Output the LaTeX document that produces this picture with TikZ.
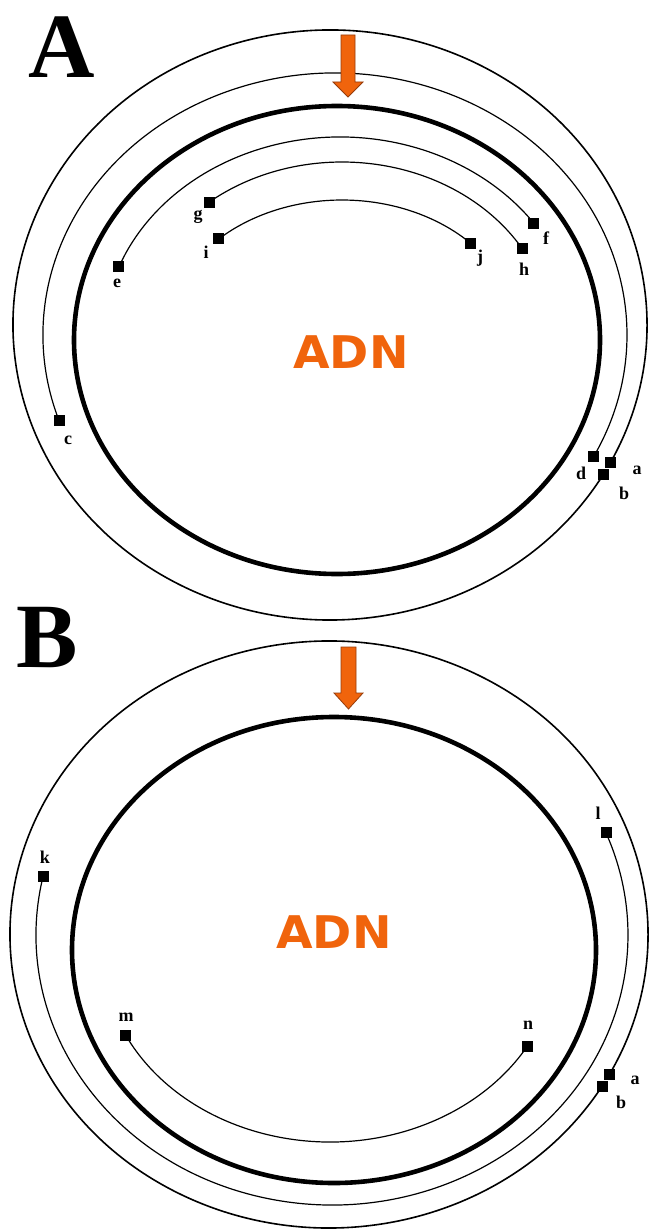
\documentclass[tikz,border=0pt]{standalone}
\usepackage{fontspec}
\setmainfont{Liberation Serif}
\newfontfamily\adnfont{DejaVu Sans}
\usetikzlibrary{calc}
\definecolor{adnorange}{RGB}{240,100,12}
\definecolor{arrowedge}{RGB}{150,60,10}
\begin{document}
\begin{tikzpicture}[x=1pt,y=-1pt,
  thinring/.style={line width=1.6pt},
  strand/.style={line width=1.2pt},
  dnaring/.style={line width=4.6pt},
  sq/.style={fill=black, draw=none, rectangle, minimum size=11pt, inner sep=0pt},
  lbl/.style={font=\fontsize{18}{18}\selectfont\bfseries, inner sep=0pt},
  panel/.style={font=\fontsize{92}{92}\selectfont\bfseries, inner sep=0pt},
  adn/.style={font=\adnfont\bfseries\fontsize{45}{45}\selectfont, text=adnorange, inner sep=0pt, xscale=1.05},
  marker/.style={fill=adnorange, draw=arrowedge, line width=0.8pt, line join=miter}]
\useasboundingbox (0,0) rectangle (649,1230);
\fill[white] (0,0) rectangle (649,1230);

% ================= Panel A =================
\node[panel] (pA) at (62,47) {A};
\coordinate (oA) at (330,325);   % outer ring
\coordinate (mA) at (335,335);   % c-d strand
\coordinate (tA) at (337,340);   % DNA
\coordinate (efA) at (340,340);
\coordinate (ghA) at (342,340);
\coordinate (ijA) at (342,340);

\draw[dnaring] (tA) ellipse[x radius=263, y radius=234];

\path ($(oA)+(27.8:317 and 295)$) node[sq] (a1) {};
\path ($(oA)+(30.5:317 and 295)$) node[sq] (b1) {};
\draw[thinring] (a1.center) arc[start angle=27.8, end angle=-329.5, x radius=317, y radius=295];

\path ($(mA)+(160.9:292 and 262)$) node[sq] (c1) {};
\path ($(mA)+(387.6:292 and 262)$) node[sq] (d1) {};
\draw[strand] (c1.center) arc[start angle=160.9, end angle=387.6, x radius=292, y radius=262];

\path ($(efA)+(201.1:237 and 203)$) node[sq] (e1) {};
\path ($(efA)+(324.9:237 and 203)$) node[sq] (f1) {};
\draw[strand] (e1.center) arc[start angle=201.1, end angle=324.9, x radius=237, y radius=203];

\path ($(ghA)+(230.8:210 and 178)$) node[sq] (g1) {};
\path ($(ghA)+(329.2:210 and 178)$) node[sq] (h1) {};
\draw[strand] (g1.center) arc[start angle=230.8, end angle=329.2, x radius=210, y radius=178];

\path ($(ijA)+(226.2:178 and 140)$) node[sq] (i1) {};
\path ($(ijA)+(316.3:178 and 140)$) node[sq] (j1) {};
\draw[strand] (i1.center) arc[start angle=226.2, end angle=316.3, x radius=178, y radius=140];

\node[lbl] (la1) at (637,470) {a};
\node[lbl] (lb1) at (624,493) {b};
\node[lbl] (lc1) at (68,440) {c};
\node[lbl] (ld1) at (581,473) {d};
\node[lbl] (le1) at (117,283) {e};
\node[lbl] (lf1) at (546,238) {f};
\node[lbl] (lg1) at (198,217) {g};
\node[lbl] (lh1) at (524,269) {h};
\node[lbl] (li1) at (206,252) {i};
\node[lbl] (lj1) at (480,258) {j};

\node[adn] (adnA) at (351,352) {ADN};
\draw[marker] (341,35) -- (355,35) -- (355,82) -- (363,82) -- (348,97) -- (333,82) -- (341,82) -- cycle;

% ================= Panel B =================
\node[panel] (pB) at (47,638) {B};
\coordinate (oB) at (329,934.5);
\coordinate (tB) at (334,950);
\coordinate (klB) at (332,935);
\coordinate (mnB) at (330,950);

\draw[dnaring] (tB) ellipse[x radius=262, y radius=233];

\path ($(oB)+(28.4:319 and 293.5)$) node[sq] (a2) {};
\path ($(oB)+(31.1:319 and 293.5)$) node[sq] (b2) {};
\draw[thinring] (a2.center) arc[start angle=28.4, end angle=-328.9, x radius=319, y radius=293.5];

\path ($(klB)+(192.6:296 and 270)$) node[sq] (k2) {};
\path ($(klB)+(-22.2:296 and 270)$) node[sq] (l2) {};
\draw[strand] (k2.center) arc[start angle=192.6, end angle=-22.2, x radius=296, y radius=270];

\path ($(mnB)+(153.7:228 and 192)$) node[sq] (m2) {};
\path ($(mnB)+(30:228 and 192)$) node[sq] (n2) {};
\draw[strand] (m2.center) arc[start angle=153.7, end angle=30, x radius=228, y radius=192];

\node[lbl] (lk2) at (45,857) {k};
\node[lbl] (ll2) at (598,813) {l};
\node[lbl] (lm2) at (126,1017) {m};
\node[lbl] (ln2) at (528,1025) {n};
\node[lbl] (la2) at (635,1080) {a};
\node[lbl] (lb2) at (621,1102) {b};

\node[adn] (adnB) at (334,932) {ADN};
\draw[marker] (341,647) -- (356,647) -- (356,693) -- (363,693) -- (348.5,709) -- (334,693) -- (341,693) -- cycle;
\end{tikzpicture}
\end{document}
